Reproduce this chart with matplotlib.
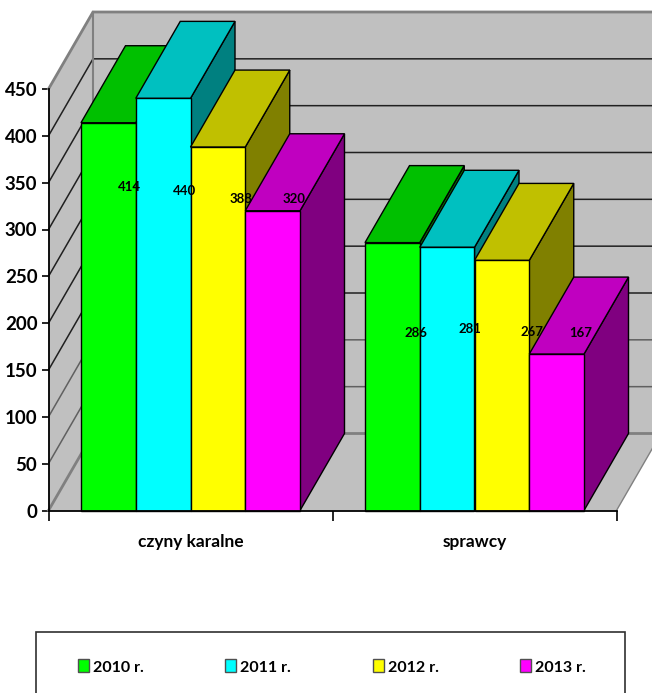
import matplotlib
matplotlib.use("Agg")
import matplotlib.pyplot as plt
from matplotlib.patches import Polygon, Patch, Rectangle

categories = ["czyny karalne", "sprawcy"]
years = ["2010 r.", "2011 r.", "2012 r.", "2013 r."]
values_2010 = [414, 286]
values_2011 = [440, 281]
values_2012 = [388, 267]
values_2013 = [320, 167]
y_ticks = [0, 50, 100, 150, 200, 250, 300, 350, 400, 450]

front = ["#00ff00", "#00ffff", "#ffff00", "#ff00ff"]
top = ["#00c000", "#00c0c0", "#c0c000", "#c000c0"]
side = ["#008000", "#008080", "#808000", "#800080"]
series = [values_2010, values_2011, values_2012, values_2013]

# label anchor: height on the value axis and horizontal shift from bar's left
label_level = [[345, 190], [341, 194], [333, 191], [333, 189]]
label_shift = [[48, 51], [49, 50], [51, 57], [49, 51]]

W, H = 652, 693
FONT = ["Lato", "DejaVu Sans"]
plt.rcParams["font.family"] = FONT
plt.rcParams["font.weight"] = "bold"

fig = plt.figure(figsize=(W / 100, H / 100), dpi=100, facecolor="white")
L, R, T, B = 48.5, 616.5, 89.0, 510.5
ax = fig.add_axes([L / W, 1 - B / H, (R - L) / W, (B - T) / H])
ax.set_xlim(0, 2)
ax.set_ylim(0, 450)
ax.patch.set_visible(False)

px_x = 2 / (R - L)          # category units per pixel
px_y = 450 / (B - T)        # value units per pixel
DX, DY = 44.5 * px_x, 77 * px_y
bar_w = 54.75 * px_x
margin = 32.5 * px_x


def poly(pts, fc, ec="black", lw=1.0, z=1):
    ax.add_patch(Polygon(pts, closed=True, facecolor=fc, edgecolor=ec, linewidth=lw,
                         zorder=z, clip_on=False, joinstyle="miter"))


# walls and floor
poly([(0, 0), (DX, DY), (DX, 450 + DY), (0, 450)], "#c0c0c0", "none", 0, 1)
poly([(DX, DY), (2 + DX, DY), (2 + DX, 450 + DY), (DX, 450 + DY)], "#c0c0c0", "none", 0, 1)
poly([(0, 0), (2, 0), (2 + DX, DY), (DX, DY)], "#c0c0c0", "none", 0, 1)

# grid lines on the side and back walls
for v in y_ticks:
    edge = v in (0, 450)
    low = v <= 100
    col = "#808080" if edge else ("#606060" if low else "#202020")
    lw = 2.0 if edge else 1.1
    ax.plot([0, DX, 2 + DX], [v, v + DY, v + DY], color=col, lw=lw, zorder=2,
            clip_on=False, solid_joinstyle="miter")
ax.plot([DX, DX], [DY, 450 + DY], color="#808080", lw=1.5, zorder=2, clip_on=False)
ax.plot([2, 2 + DX], [0, DY], color="#808080", lw=1.0, zorder=2, clip_on=False)

# bars, left to right
for c in range(2):
    for s, vals in enumerate(series):
        x0 = c + margin + s * bar_w
        x1 = x0 + bar_w
        v = vals[c]
        z = 3 + c * 10 + s
        poly([(x1, 0), (x1 + DX, DY), (x1 + DX, v + DY), (x1, v)], side[s], z=z)
        poly([(x0, v), (x1, v), (x1 + DX, v + DY), (x0 + DX, v + DY)], top[s], z=z)
        poly([(x0, 0), (x1, 0), (x1, v), (x0, v)], front[s], z=z)

# data labels
for c in range(2):
    for s, vals in enumerate(series):
        x0 = c + margin + s * bar_w
        ax.text(x0 + label_shift[s][c] * px_x, label_level[s][c], str(vals[c]),
                ha="center", va="center", fontsize=9.5, fontweight="bold",
                color="black", zorder=40, clip_on=False)

# axes
for sp in ("top", "right"):
    ax.spines[sp].set_visible(False)
for sp in ("left", "bottom"):
    ax.spines[sp].set_linewidth(1.3)
    ax.spines[sp].set_zorder(30)
ax.set_yticks(y_ticks)
ax.set_xticks([0, 1, 2])
ax.set_xticklabels([])
ax.set_xticks([0.5, 1.5], categories, minor=True)
ax.tick_params(axis="y", length=5, width=1.2, pad=3, labelsize=13.5)
ax.tick_params(axis="x", which="major", length=7, width=1.2)
ax.tick_params(axis="x", which="minor", length=0, pad=17, labelsize=12.5)

# legend frame (runs off the bottom of the figure)
fx = lambda p: p / W
fy = lambda p: 1 - p / H
fig.add_artist(Rectangle((fx(35.5), fy(700)), fx(625) - fx(35.5), fy(632) - fy(700),
                         transform=fig.transFigure, facecolor="white",
                         edgecolor="#303030", linewidth=1.2))
handles = [Patch(facecolor=f, edgecolor="#505050", linewidth=1.0) for f in front]
fig.legend(handles, years, ncol=4, frameon=False,
           loc="center left", bbox_to_anchor=(fx(78), fy(667)),
           handlelength=0.69, handleheight=0.875, handletextpad=0.25,
           columnspacing=5.11, borderpad=0, borderaxespad=0,
           prop={"weight": "bold", "size": 11.5, "family": FONT})

fig.savefig("out.png", dpi=100)
